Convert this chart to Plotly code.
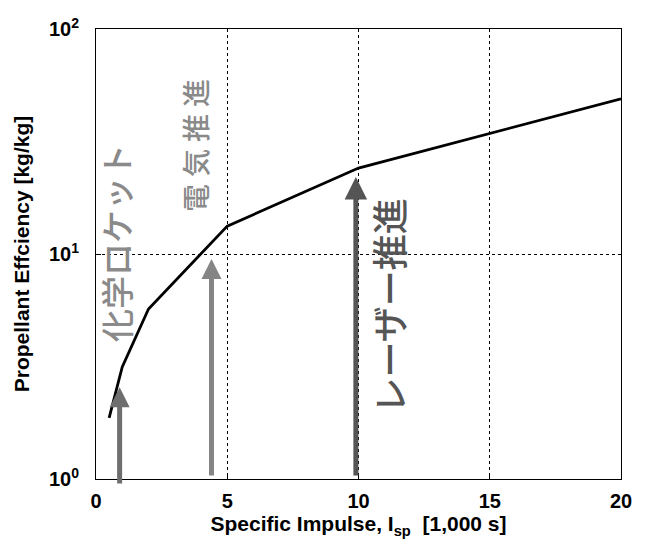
import numpy as np
import plotly.graph_objects as go

# Propellant efficiency vs specific impulse
isp_k = [0.5, 1.0, 2.0, 5.0, 10.0, 20.0]          # specific impulse [1,000 s]
efficiency = [1.87, 3.15, 5.7, 13.3, 24.1, 48.9]  # propellant efficiency [kg/kg]

# Propulsion-class markers: label, arrow x position, arrow tail / tip values
labels = ["化学ロケット", "電気推進", "レーザー推進"]
arrow_x = [0.9, 4.4, 9.9]
arrow_tail = [0.94, 1.02, 1.02]
arrow_tip = [2.56, 9.5, 22.0]

x_ticks = [0, 5, 10, 15, 20]
y_ticks = [1, 10, 100]
y_ticktext = ["10<sup>0</sup>", "10<sup>1</sup>", "10<sup>2</sup>"]

AX_FONT = dict(family="Liberation Sans, Arial, sans-serif", size=20, color="black", weight="bold")
TITLE_FONT = dict(AX_FONT, size=21)
JP_FONT = "Noto Sans CJK JP"

fig = go.Figure()
fig.add_trace(go.Scatter(
    x=isp_k, y=efficiency, mode="lines",
    line=dict(color="black", width=2.8),
    showlegend=False, hoverinfo="skip",
))

arrow_colors = ["#6e6e6e", "#858585", "#555555"]
head_sizes = [0.8, 0.8, 0.9]
for xa, tail, tip, col, hs in zip(arrow_x, arrow_tail, arrow_tip, arrow_colors, head_sizes):
    fig.add_annotation(
        x=xa, y=np.log10(tip), ax=xa, ay=np.log10(tail),
        xref="x", yref="y", axref="x", ayref="y",
        text="", showarrow=True, arrowhead=2, arrowsize=hs,
        arrowwidth=5, arrowcolor=col, standoff=0, startstandoff=0,
    )

# Vertical labels for each propulsion class
label_pos = [(0.76, 1.049), (3.77, 1.484), (11.12, 0.771)]
label_sizes = [33, 28, 36]
label_colors = ["#8a8a8a", "#8a8a8a", "#555555"]
label_weights = [500, 500, 500]
label_text = [labels[0], "\u2005".join(labels[1]), labels[2]]
for txt, (lx, ly), sz, col, wt in zip(label_text, label_pos, label_sizes, label_colors, label_weights):
    fig.add_annotation(
        x=lx, y=ly, xref="x", yref="y", text=txt, showarrow=False,
        textangle=-90,
        font=dict(family=JP_FONT, size=sz, color=col, weight=wt),
    )

fig.update_layout(
    width=648, height=546,
    margin=dict(l=96, r=27, t=29, b=67),
    paper_bgcolor="white", plot_bgcolor="white",
    font=AX_FONT,
)
fig.update_xaxes(
    range=[0, 20], tickvals=x_ticks, ticktext=[str(v) for v in x_ticks],
    showline=True, linecolor="black", linewidth=1, mirror=True,
    ticks="inside", ticklen=5, tickcolor="black",
    showgrid=True, gridcolor="black", griddash="dot", gridwidth=1,
    zeroline=False, tickfont=AX_FONT, ticklabelstandoff=4,
    title=dict(text="Specific Impulse, I<sub>sp</sub>  [1,000 s]", font=TITLE_FONT, standoff=5),
)
fig.update_yaxes(
    type="log", range=[0, 2], tickvals=y_ticks, ticktext=y_ticktext,
    showline=True, linecolor="black", linewidth=1, mirror=True,
    ticks="inside", ticklen=5, tickcolor="black",
    showgrid=True, gridcolor="black", griddash="dot", gridwidth=1,
    zeroline=False, tickfont=AX_FONT, ticklabelstandoff=12,
    title=dict(text="Propellant Effciency [kg/kg]", font=TITLE_FONT, standoff=13),
)

fig.write_html("out.html")
